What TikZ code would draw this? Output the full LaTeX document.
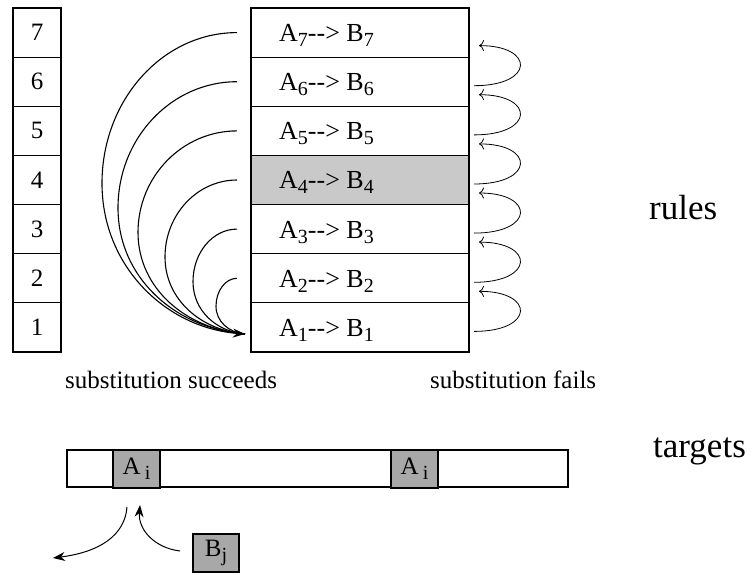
\documentclass[tikz,border=0pt]{standalone}
\usepackage{fontspec}
\setmainfont{Liberation Serif}
\usetikzlibrary{arrows.meta}
\definecolor{lightg}{gray}{0.79}
\definecolor{darkg}{gray}{0.66}
\newcommand{\mysub}[1]{\raisebox{-5pt}{\fontsize{20}{22}\selectfont #1}}
\begin{document}
\begin{tikzpicture}[x=1pt,y=-1pt,
  font=\fontsize{25}{30}\selectfont,
  numbox/.style={draw, line width=1.1pt, minimum width=48pt, minimum height=49.14pt, inner sep=0pt, outer sep=0pt},
  rulebox/.style={draw, line width=1.1pt, minimum width=218pt, minimum height=49.14pt, inner sep=0pt, outer sep=0pt},
  lab/.style={anchor=base west, inner sep=0pt, font=\fontsize{26}{30}\selectfont},
  caption/.style={anchor=base west, inner sep=0pt},
  bigtext/.style={anchor=base west, inner sep=0pt, font=\fontsize{35}{40}\selectfont},
  succarc/.style={line width=1.1pt},
  failarc/.style={line width=0.8pt, -{To[length=5pt,width=11pt]}},
  tbox/.style={draw, line width=1.1pt, fill=darkg, inner sep=0pt, outer sep=0pt, minimum width=47pt, minimum height=38pt},
  curvearrow/.style={line width=1pt, -{Stealth[length=12pt,width=9pt]}}
]
\useasboundingbox (0,0) rectangle (756,574);

% left numbers
\node[numbox] (n7) at (37,32.57) {7};
\node[numbox] (n6) at (37,81.71) {6};
\node[numbox] (n5) at (37,130.86) {5};
\node[numbox] (n4) at (37,180) {4};
\node[numbox] (n3) at (37,229.14) {3};
\node[numbox] (n2) at (37,278.29) {2};
\node[numbox] (n1) at (37,327.43) {1};

% rule rows
\node[rulebox] (r7) at (360,32.57) {};
\node[rulebox] (r6) at (360,81.71) {};
\node[rulebox] (r5) at (360,130.86) {};
\node[rulebox, fill=lightg] (r4) at (360,180) {};
\node[rulebox] (r3) at (360,229.14) {};
\node[rulebox] (r2) at (360,278.29) {};
\node[rulebox] (r1) at (360,327.43) {};

\node[lab] (l7) at (279,41.5) {A\mysub{7}-{}-> B\mysub{7}};
\node[lab] (l6) at (279,90.6) {A\mysub{6}-{}-> B\mysub{6}};
\node[lab] (l5) at (279,139.8) {A\mysub{5}-{}-> B\mysub{5}};
\node[lab] (l4) at (279,188.9) {A\mysub{4}-{}-> B\mysub{4}};
\node[lab] (l3) at (279,238) {A\mysub{3}-{}-> B\mysub{3}};
\node[lab] (l2) at (279,287.2) {A\mysub{2}-{}-> B\mysub{2}};
\node[lab] (l1) at (279,336.3) {A\mysub{1}-{}-> B\mysub{1}};

% success arcs
\coordinate (s7) at (237,32.6);
\coordinate (s6) at (237,81.7);
\coordinate (s5) at (237,130.9);
\coordinate (s4) at (237,180);
\coordinate (s3) at (237,229.1);
\coordinate (s2) at (237,278.3);
\coordinate (tip) at (245,334);
\draw[succarc, -{Stealth[length=12pt,width=9pt]}] (s7) .. controls (162.5,32.6) and (102,100.1) .. (102,183.3) .. controls (102,266.5) and (166,327.7) .. (tip);
\draw[succarc] (s6) .. controls (171.3,81.7) and (118,138.2) .. (118,207.9) .. controls (118,277.6) and (175,328.4) .. (tip);
\draw[succarc] (s5) .. controls (182.4,130.9) and (138,176.4) .. (138,232.4) .. controls (138,288.4) and (186,329.3) .. (tip);
\draw[succarc] (s4) .. controls (197.3,180) and (165,214.5) .. (165,257) .. controls (165,299.5) and (201,330.5) .. (tip);
\draw[succarc] (s3) .. controls (212.7,229.1) and (193,252.6) .. (193,281.6) .. controls (193,310.6) and (216.3,331.7) .. (tip);
\draw[succarc] (s2) .. controls (225.4,278.3) and (216,290.8) .. (216,306.2) .. controls (216,321.6) and (229,332.7) .. (tip);

% fail arcs
\coordinate (fa1) at (474,331.4);
\coordinate (fa2) at (474,282.3);
\coordinate (fa3) at (474,233.1);
\coordinate (fa4) at (474,184);
\coordinate (fa5) at (474,134.9);
\coordinate (fa6) at (474,85.7);
\coordinate (fb2) at (479,291.3);
\coordinate (fb3) at (479,242.1);
\coordinate (fb4) at (479,193);
\coordinate (fb5) at (479,143.9);
\coordinate (fb6) at (479,94.7);
\coordinate (fb7) at (479,45.6);
\draw[failarc] (fa1) .. controls (535,331.4) and (535,291.3) .. (fb2);
\draw[failarc] (fa2) .. controls (535,282.3) and (535,242.1) .. (fb3);
\draw[failarc] (fa3) .. controls (535,233.1) and (535,193) .. (fb4);
\draw[failarc] (fa4) .. controls (535,184) and (535,143.9) .. (fb5);
\draw[failarc] (fa5) .. controls (535,134.9) and (535,94.7) .. (fb6);
\draw[failarc] (fa6) .. controls (535,85.7) and (535,45.6) .. (fb7);

% texts
\node[bigtext] (rules) at (649,219) {rules};
\node[caption] (succ) at (65,388) {substitution succeeds};
\node[caption] (fail) at (430,388) {substitution fails};
\node[bigtext] (targets) at (653,457) {targets};

% targets bar
\node[draw, line width=1.1pt, minimum width=501pt, minimum height=37pt, inner sep=0pt] (bar) at (317.5,468.5) {};
\node[tbox] (ai1) at (136.5,469) {A\,\mysub{i}};
\node[tbox] (ai2) at (414.5,469) {A\,\mysub{i}};
\node[tbox, minimum width=46pt] (bj) at (216,553) {B\mysub{j}};

\coordinate (d1) at (127,507);
\coordinate (d2) at (53,558);
\coordinate (u1) at (180,551);
\coordinate (u2) at (140,505);
\draw[curvearrow] (d1) .. controls (125,535) and (100,552) .. (d2);
\draw[curvearrow] (u1) .. controls (155,548) and (138,530) .. (u2);
\end{tikzpicture}
\end{document}
